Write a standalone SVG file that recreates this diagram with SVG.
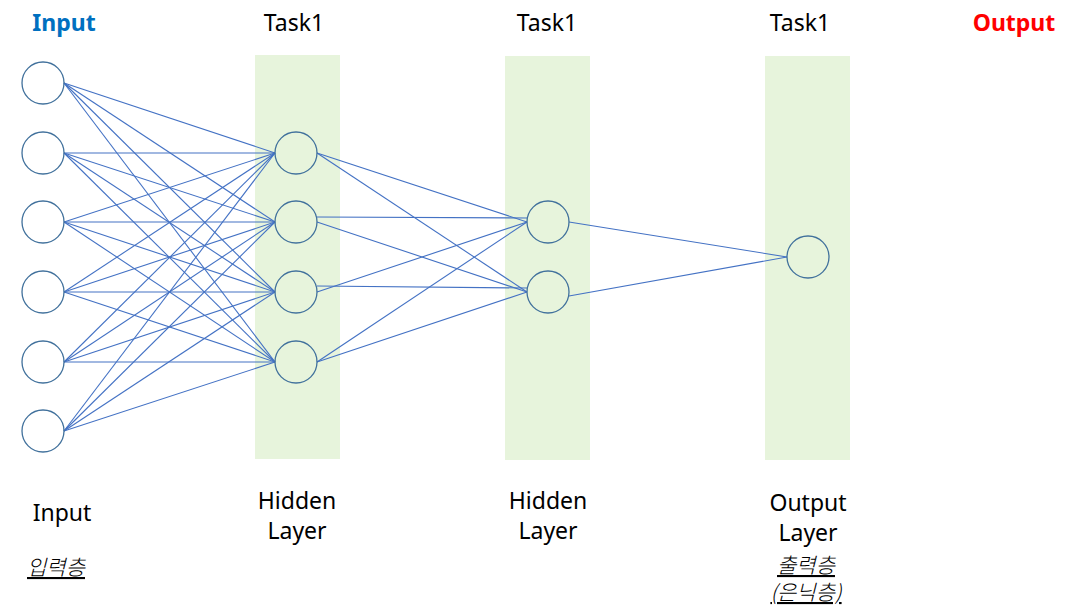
<svg xmlns="http://www.w3.org/2000/svg" width="1078" height="609" viewBox="0 0 1078 609">
<style>
.band{fill:#E7F4DC}
.node{fill:none;stroke:#41719C;stroke-width:1.3}
.conn line{stroke:#4472C4;stroke-width:1.1}
.t{font-family:"Noto Sans","Open Sans","Liberation Sans",sans-serif;font-size:23px;fill:#000;text-anchor:middle}
.h{font-family:"Noto Sans","Open Sans","Liberation Sans",sans-serif;font-size:23px;font-weight:bold;text-anchor:middle}
.k{font-family:"Noto Sans CJK KR",sans-serif;font-size:21px;font-weight:300;font-style:italic;text-decoration:underline;fill:#000;text-anchor:middle}
</style>
<rect width="1078" height="609" fill="#fff"/>
<g id="bands">
<rect class="band" x="255" y="55" width="85" height="404"/>
<rect class="band" x="505" y="56" width="85" height="404"/>
<rect class="band" x="765" y="56" width="85" height="404"/>
</g>
<g id="connectors" class="conn">
<line x1="64" y1="83" x2="275" y2="153"/><line x1="64" y1="83" x2="275" y2="222"/><line x1="64" y1="83" x2="275" y2="292"/><line x1="64" y1="83" x2="275" y2="362"/>
<line x1="64" y1="153" x2="275" y2="153"/><line x1="64" y1="153" x2="275" y2="222"/><line x1="64" y1="153" x2="275" y2="292"/><line x1="64" y1="153" x2="275" y2="362"/>
<line x1="64" y1="222" x2="275" y2="153"/><line x1="64" y1="222" x2="275" y2="222"/><line x1="64" y1="222" x2="275" y2="292"/><line x1="64" y1="222" x2="275" y2="362"/>
<line x1="64" y1="292" x2="275" y2="153"/><line x1="64" y1="292" x2="275" y2="222"/><line x1="64" y1="292" x2="275" y2="292"/><line x1="64" y1="292" x2="275" y2="362"/>
<line x1="64" y1="362" x2="275" y2="153"/><line x1="64" y1="362" x2="275" y2="222"/><line x1="64" y1="362" x2="275" y2="292"/><line x1="64" y1="362" x2="275" y2="362"/>
<line x1="64" y1="431" x2="275" y2="153"/><line x1="64" y1="431" x2="275" y2="222"/><line x1="64" y1="431" x2="275" y2="292"/><line x1="64" y1="431" x2="275" y2="362"/>
<line x1="317" y1="153" x2="527" y2="222"/><line x1="317" y1="153" x2="527" y2="292"/>
<line x1="317" y1="217" x2="527" y2="218"/><line x1="317" y1="222" x2="527" y2="292"/>
<line x1="317" y1="292" x2="527" y2="222"/><line x1="317" y1="286" x2="527" y2="288"/>
<line x1="317" y1="362" x2="527" y2="222"/><line x1="317" y1="362" x2="527" y2="292"/>
<line x1="569" y1="222" x2="787" y2="257"/><line x1="569" y1="296" x2="787" y2="257"/>
</g>
<g id="input-layer">
<circle class="node" cx="43" cy="83" r="21"/>
<circle class="node" cx="43" cy="153" r="21"/>
<circle class="node" cx="43" cy="222" r="21"/>
<circle class="node" cx="43" cy="292" r="21"/>
<circle class="node" cx="43" cy="362" r="21"/>
<circle class="node" cx="43" cy="431" r="21"/>
</g>
<g id="hidden-layer-1">
<circle class="node" cx="296" cy="153" r="21"/>
<circle class="node" cx="296" cy="222" r="21"/>
<circle class="node" cx="296" cy="292" r="21"/>
<circle class="node" cx="296" cy="362" r="21"/>
</g>
<g id="hidden-layer-2">
<circle class="node" cx="548" cy="222" r="21"/>
<circle class="node" cx="548" cy="292" r="21"/>
</g>
<g id="output-layer">
<circle class="node" cx="808" cy="257" r="21"/>
</g>
<g id="labels">
<text class="h" x="64" y="31" fill="#0070C0">Input</text>
<text class="h" x="1014" y="31" fill="#FF0000">Output</text>
<text class="t" x="294" y="31">Task1</text>
<text class="t" x="547" y="31">Task1</text>
<text class="t" x="800" y="31">Task1</text>
<text class="t" x="62" y="521">Input</text>
<text class="t" x="297" y="509">Hidden</text>
<text class="t" x="297" y="539">Layer</text>
<text class="t" x="548" y="509">Hidden</text>
<text class="t" x="548" y="539">Layer</text>
<text class="t" x="808" y="511">Output</text>
<text class="t" x="808" y="541">Layer</text>
<text class="k" x="56" y="575">입력층</text>
<text class="k" x="806" y="573">출력층</text>
<text class="k" x="806" y="600">(은닉층)</text>
</g>
</svg>
